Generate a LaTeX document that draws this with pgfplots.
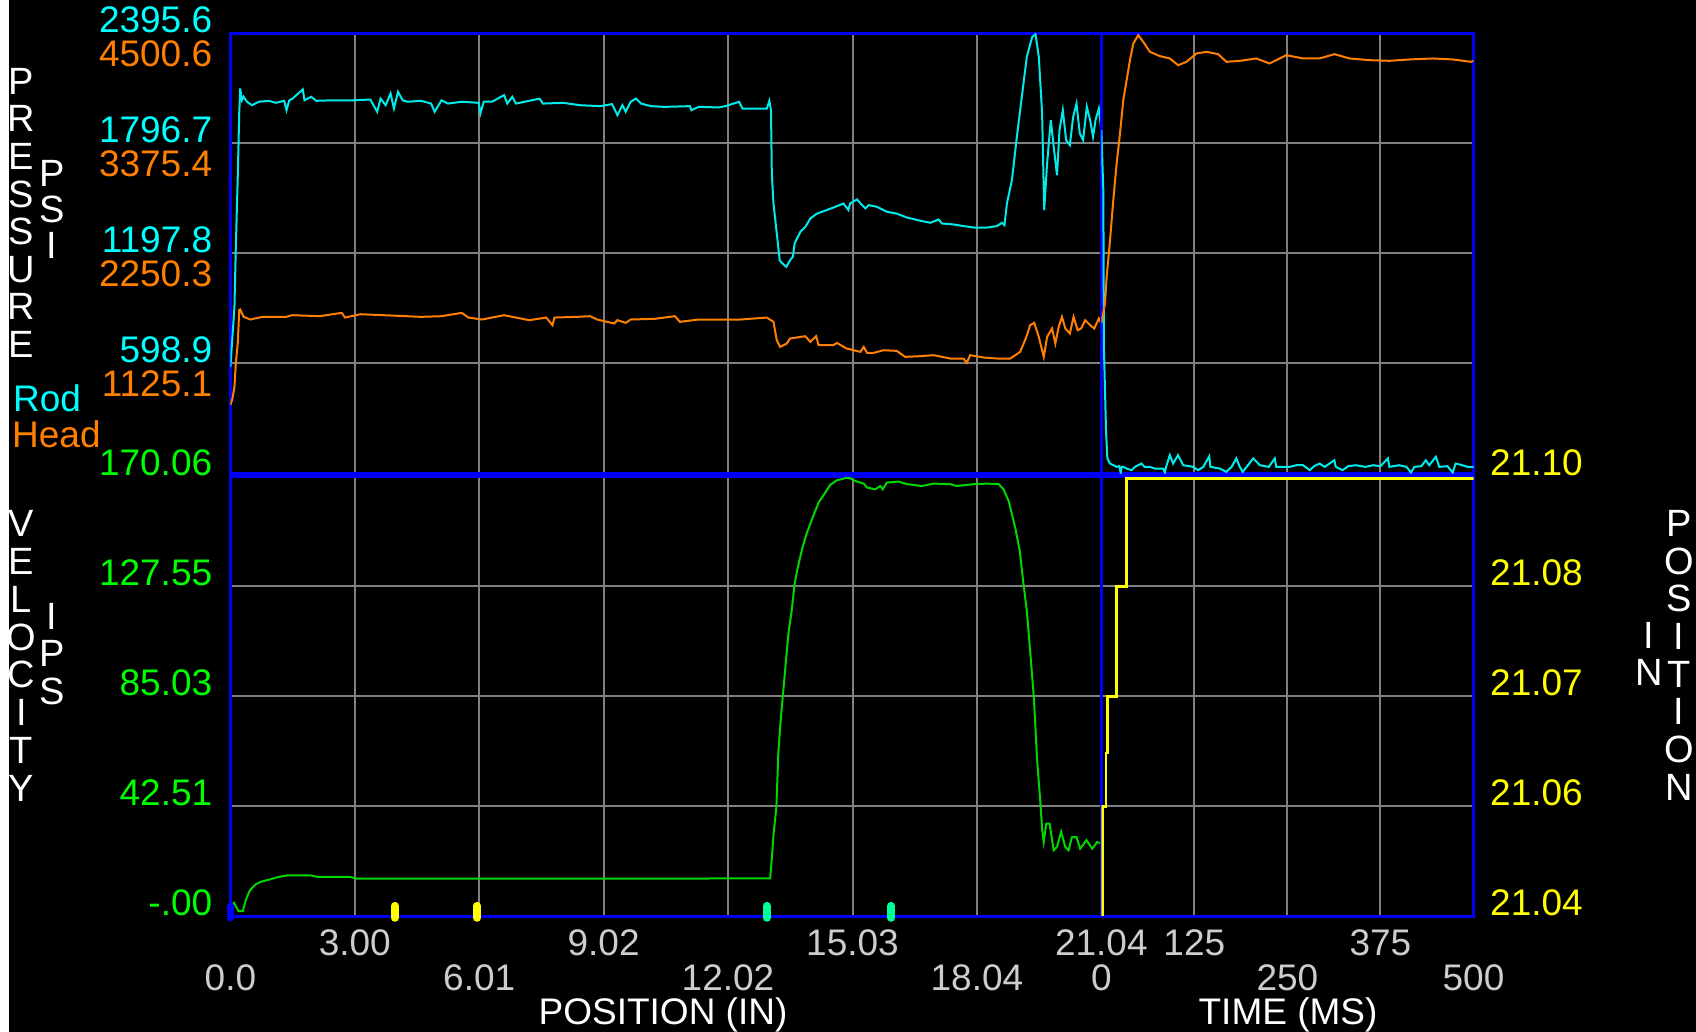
\documentclass[border=0pt]{standalone}
\usepackage{fontspec}
\setmainfont{Liberation Sans}
\usepackage{pgfplots}
\usepackage{pgfplotstable}
\pgfplotsset{compat=1.18}

\definecolor{rodc}{RGB}{0,235,235}
\definecolor{rodt}{RGB}{0,255,255}
\definecolor{headc}{RGB}{255,128,0}
\definecolor{velc}{RGB}{0,215,0}
\definecolor{velt}{RGB}{0,255,0}
\definecolor{posc}{RGB}{255,255,0}
\definecolor{gridc}{RGB}{128,128,128}
\definecolor{framec}{RGB}{0,0,245}
\definecolor{tickc}{RGB}{205,205,205}
\definecolor{markg}{RGB}{0,255,150}
\definecolor{markb}{RGB}{0,0,255}

\newcommand\lf{\fontsize{37}{40}\selectfont}

% Rod pressure vs position (in, psi)
\pgfplotstableread{
x y
0 580
0.033 690
0.098 907
0.131 1234
0.180 1633
0.213 1960
0.237 2096
0.278 2032
0.319 2051
0.40 2024
0.523 2005
0.687 2024
0.93 2029
1.095 2018
1.30 2029
1.356 1978
1.422 2032
1.50 2041
1.749 2091
1.79 2032
1.953 2051
2.075 2029
2.48 2032
2.97 2032
3.38 2036
3.546 1969
3.628 2041
3.75 2005
3.87 2069
3.95 1987
4.05 2078
4.16 2032
4.28 2024
4.61 2029
4.85 2014
4.935 1969
5.10 2032
5.26 2014
5.59 2024
6.00 2018
6.04 1960
6.12 2024
6.32 2024
6.61 2060
6.69 2014
6.81 2051
6.90 2014
7.47 2041
7.55 2014
8.04 2018
8.45 2005
8.94 2000
9.22 2011
9.35 1951
9.47 2005
9.55 1969
9.67 2024
9.80 2041
9.92 2014
10.16 2000
10.49 1996
11.10 2000
11.14 1978
11.31 1996
11.80 1993
11.96 2000
12.29 2024
12.37 1987
12.64 1987
12.96 1987
13.02 2029
13.06 1978
13.08 1633
13.12 1470
13.20 1307
13.27 1161
13.32 1147
13.43 1125
13.52 1161
13.59 1180
13.63 1252
13.69 1279
13.77 1316
13.89 1343
14.01 1388
14.17 1415
14.33 1428
14.57 1448
14.81 1470
14.93 1434
14.97 1470
15.14 1492
15.26 1461
15.34 1443
15.42 1461
15.62 1452
15.86 1425
16.10 1415
16.34 1394
16.67 1376
16.91 1365
17.11 1383
17.19 1361
17.47 1356
17.71 1347
17.96 1339
18.28 1339
18.52 1347
18.64 1365
18.70 1352
18.76 1470
18.88 1597
19.00 1833
19.12 2051
19.24 2268
19.37 2377
19.45 2392
19.53 2268
19.61 1960
19.66 1434
19.73 1688
19.82 1924
19.89 1778
19.97 1624
20.03 1869
20.11 1978
20.19 1815
20.28 1788
20.36 1942
20.44 2014
20.52 1851
20.60 1815
20.69 1996
20.77 1924
20.84 1833
20.90 1924
20.98 1987
21.04 1869
}\rodpos

% Head pressure vs position (in, psi)
\pgfplotstableread{
x y
0 699
0.05 767
0.098 886
0.131 1125
0.18 1346
0.213 1670
0.237 1677
0.32 1602
0.48 1575
0.77 1602
1.34 1602
1.50 1619
2.16 1609
2.69 1643
2.77 1595
3.14 1629
3.71 1619
4.61 1602
5.10 1609
5.59 1643
5.75 1595
6.08 1575
6.61 1619
7.22 1568
7.63 1595
7.78 1517
7.83 1595
8.37 1602
8.69 1609
8.86 1575
9.27 1534
9.35 1568
9.55 1541
9.67 1575
10.25 1582
10.74 1609
10.86 1551
11.31 1575
11.96 1575
12.32 1575
12.96 1595
13.12 1551
13.20 1363
13.28 1295
13.44 1329
13.52 1380
13.77 1397
13.89 1404
14.01 1346
14.15 1404
14.21 1312
14.57 1312
14.65 1336
14.89 1278
15.22 1244
15.30 1295
15.38 1234
15.54 1234
15.78 1261
16.10 1254
16.30 1193
16.67 1200
16.99 1210
17.39 1176
17.71 1176
17.79 1132
17.87 1210
18.20 1186
18.52 1176
18.84 1176
19.08 1244
19.23 1397
19.32 1517
19.42 1541
19.53 1397
19.65 1193
19.73 1397
19.85 1483
19.93 1329
20.01 1500
20.09 1602
20.17 1483
20.28 1432
20.37 1602
20.47 1466
20.55 1483
20.65 1568
20.77 1517
20.87 1483
20.98 1585
21.04 1534
}\headpos

% Rod pressure vs time (ms, psi)
\pgfplotstableread{
x y
0 1869
2.7 1542
3.6 671
6.3 236
8.1 82
11.7 54
20.6 36
24 40
26 5
27.5 36
29.5 36
35 25
40.7 18
45 36
54 54
58 36
65 36
72 27
83 27
85.4 5
87 36
92 100
96.5 54
103 100
110 45
118 40
123.4 36
130 18
137 36
145 94
146.6 36
159 27
168 9
175 36
181.4 82
186 36
190 9
196 40
204 82
213 45
225 36
233 82
235 36
253 36
262 45
271 45
280 18
286 40
293 54
300 36
313 72
315 36
324 18
332 40
342 45
355 36
365 45
375 40
385 82
387 36
400 45
410 36
416 5
420.5 36
430 40
436 72
440.5 45
449.5 91
454 36
465 40
472 5
476 54
485 45
492 36
498.6 36
500 36
}\rodtime

% Head pressure vs time (ms, psi)
\pgfplotstableread{
x y
0 1534
4.9 1738
7.2 2011
11.7 2386
16.1 2796
20.6 3171
25.1 3477
29.5 3818
34 4023
38.5 4228
43 4398
49.6 4483
56.3 4415
65.3 4313
78.7 4269
92 4245
103.3 4176
114.4 4211
127.8 4296
141.2 4313
157 4289
168 4211
186 4221
208.2 4245
226 4194
248.5 4279
271 4245
293 4245
313.2 4289
333.4 4245
360 4228
387 4221
414 4235
445 4245
472 4235
496.4 4211
500 4220
}\headtime

% Velocity vs position (in, ips)
\pgfplotstableread{
x y
0 4
0.085 5.3
0.197 2.05
0.30 2.05
0.37 6.3
0.47 10.1
0.60 12.3
0.73 13.4
0.95 14.3
1.16 15.3
1.38 15.9
1.94 15.9
2.11 15.3
2.89 15.3
3.06 14.6
13.04 14.7
13.08 22.4
13.12 31.4
13.19 42.3
13.24 64.2
13.30 77.0
13.35 86.0
13.40 95.0
13.48 109.2
13.56 118.2
13.63 128.5
13.70 134.3
13.81 142.0
13.93 148.4
14.05 153.5
14.21 160.0
14.37 163.8
14.49 166.8
14.65 168.6
14.85 169.4
14.97 169.4
15.10 168.3
15.30 167.3
15.38 165.8
15.58 165.1
15.70 166.4
15.76 165.1
15.86 167.7
16.14 168.1
16.34 167.1
16.71 166.4
16.99 167.3
17.39 167.1
17.55 166.4
17.96 167.1
18.28 167.3
18.56 167.1
18.68 165.1
18.80 160.6
18.88 155.5
18.96 150.3
19.07 141.3
19.16 128.5
19.24 118.2
19.32 102.8
19.41 84.7
19.49 60.3
19.57 43.6
19.61 33.9
19.65 28.8
19.71 35.9
19.79 35.9
19.89 25.6
19.97 26.9
20.07 32.7
20.17 26.9
20.25 25.6
20.33 30.7
20.44 30.7
20.53 26.2
20.68 29.5
20.82 26.2
20.94 28.8
21.04 28.2
}\velpos

% Position vs time (ms, in)
\pgfplotstableread{
x y
1.4 21.04
1.4 21.055
6.3 21.055
6.3 21.0623
8.1 21.0623
8.1 21.07
20.6 21.07
20.6 21.085
34 21.085
34 21.0997
500 21.0997
}\postime

\pgfplotsset{
  panel/.style={scale only axis, height=440pt,
    axis line style={draw=framec, line width=3pt},
    major tick length=0pt, grid=major,
    major grid style={draw=gridc, line width=2pt},
    xticklabels={}},
  overlay/.style={scale only axis, height=440pt,
    axis line style={draw=none}, major tick length=0pt,
    xtick=\empty},
  leftlab/.style={yticklabel style={text=#1, anchor=east, inner sep=0pt,
    xshift=-18pt, font=\lf}},
}

\begin{document}
\begin{tikzpicture}
\fill[black] (0,0) rectangle (1696pt,1032pt);
\fill[white] (0,0) rectangle (9pt,1032pt);
\path[use as bounding box] (0,0) rectangle (1696pt,1032pt);

% ---------- upper panel, position part ----------
\begin{axis}[panel, at={(230.4pt,558.5pt)}, anchor=south west, width=870.9pt,
  xmin=0, xmax=21.04, ymin=0, ymax=2395.6,
  xtick={3.006,6.012,9.018,12.024,15.03,18.036},
  ytick={598.9,1197.8,1796.7,2395.6},
  yticklabels={598.9,1197.8,1796.7,2395.6},
  leftlab=rodt, yticklabel style={yshift=13.5pt}]
\addplot[rodc, line width=2pt] table {\rodpos};
\end{axis}
\begin{axis}[overlay, at={(230.4pt,558.5pt)}, anchor=south west, width=870.9pt,
  xmin=0, xmax=21.04, ymin=0, ymax=4500.6,
  ytick={1125.15,2250.3,3375.45,4500.6},
  yticklabels={1125.1,2250.3,3375.4,4500.6},
  leftlab=headc, yticklabel style={yshift=-20pt}]
\addplot[headc, line width=2pt] table {\headpos};
\end{axis}

% ---------- upper panel, time part ----------
\begin{axis}[panel, at={(1101.3pt,558.5pt)}, anchor=south west, width=372.2pt,
  xmin=0, xmax=500, ymin=0, ymax=2395.6,
  xtick={125,250,375}, ytick={598.9,1197.8,1796.7,2395.6}, yticklabels={}]
\addplot[rodc, line width=2pt] table {\rodtime};
\end{axis}
\begin{axis}[overlay, at={(1101.3pt,558.5pt)}, anchor=south west, width=372.2pt,
  xmin=0, xmax=500, ymin=0, ymax=4500.6, ytick=\empty]
\addplot[headc, line width=2pt] table {\headtime};
\end{axis}

% ---------- lower panel, position part ----------
\begin{axis}[panel, at={(230.4pt,115.5pt)}, anchor=south west, width=870.9pt,
  xmin=0, xmax=21.04, ymin=0, ymax=170.06, clip=false,
  xtick={3.006,6.012,9.018,12.024,15.03,18.036},
  ytick={0,42.515,85.03,127.545,170.06},
  yticklabels={-.00,42.51,85.03,127.55,170.06},
  leftlab=velt, yticklabel style={yshift=13.5pt}]
\addplot[velc, line width=2pt] table {\velpos};
\addplot[draw=markb, line width=7pt, line cap=round] coordinates {(0,-0.5) (0,4.1)};
\addplot[draw=posc, line width=8pt, line cap=round] coordinates {(3.97,-0.5) (3.97,4.1)};
\addplot[draw=posc, line width=8pt, line cap=round] coordinates {(5.96,-0.5) (5.96,4.1)};
\addplot[draw=markg, line width=8pt, line cap=round] coordinates {(12.96,-0.5) (12.96,4.1)};
\addplot[draw=markg, line width=8pt, line cap=round] coordinates {(15.97,-0.5) (15.97,4.1)};
\end{axis}

% ---------- lower panel, time part ----------
\begin{axis}[panel, at={(1101.3pt,115.5pt)}, anchor=south west, width=372.2pt,
  xmin=0, xmax=500, ymin=21.04, ymax=21.10,
  xtick={125,250,375},
  ytick={21.04,21.055,21.07,21.085,21.10},
  yticklabels={21.04,21.06,21.07,21.08,21.10},
  yticklabel pos=right,
  yticklabel style={text=posc, anchor=west, inner sep=0pt, xshift=16.5pt,
    yshift=13.5pt, font=\lf}]
\addplot[posc, line width=2.5pt] table {\postime};
\end{axis}

% ---------- x tick labels ----------
\begin{scope}[every node/.style={text=tickc, font=\lf, anchor=base, inner sep=0pt}]
\node at (354.8pt,76pt) {3.00};
\node at (603.6pt,76pt) {9.02};
\node at (852.5pt,76pt) {15.03};
\node at (1101.3pt,76pt) {21.04};
\node at (1194.3pt,76pt) {125};
\node at (1380.4pt,76pt) {375};
\node at (230.4pt,41pt) {0.0};
\node at (479.2pt,41pt) {6.01};
\node at (728.0pt,41pt) {12.02};
\node at (976.9pt,41pt) {18.04};
\node at (1101.3pt,41pt) {0};
\node at (1287.4pt,41pt) {250};
\node at (1473.5pt,41pt) {500};
\end{scope}

% ---------- axis titles ----------
\begin{scope}[every node/.style={text=white, inner sep=0pt}]
\node[font=\lf, anchor=base] at (663pt,7pt) {POSITION (IN)};
\node[font=\lf, anchor=base] at (1288pt,7pt) {TIME (MS)};
\node[anchor=north, align=center, font=\fontsize{38}{37.6}\selectfont] at (21.5pt,964pt) {P\\R\\E\\S\\S\\U\\R\\E};
\node[anchor=north, align=center, font=\fontsize{38}{36}\selectfont] at (52pt,872pt) {P\\S\\I};
\node[anchor=north, align=center, font=\fontsize{38}{37.9}\selectfont] at (21.5pt,522pt) {V\\E\\L\\O\\C\\I\\T\\Y};
\node[anchor=north, align=center, font=\fontsize{38}{37.5}\selectfont] at (52pt,429pt) {I\\P\\S};
\node[anchor=north, align=center, font=\fontsize{38}{37.7}\selectfont] at (1679pt,522pt) {P\\O\\S\\I\\T\\I\\O\\N};
\node[anchor=north, align=center, font=\fontsize{38}{37}\selectfont] at (1649pt,410pt) {I\\N};
\end{scope}
\node[text=rodt, font=\lf, anchor=base west, inner sep=0pt] at (13pt,620pt) {Rod};
\node[text=headc, font=\lf, anchor=base west, inner sep=0pt] at (12pt,584pt) {Head};
\end{tikzpicture}
\end{document}
